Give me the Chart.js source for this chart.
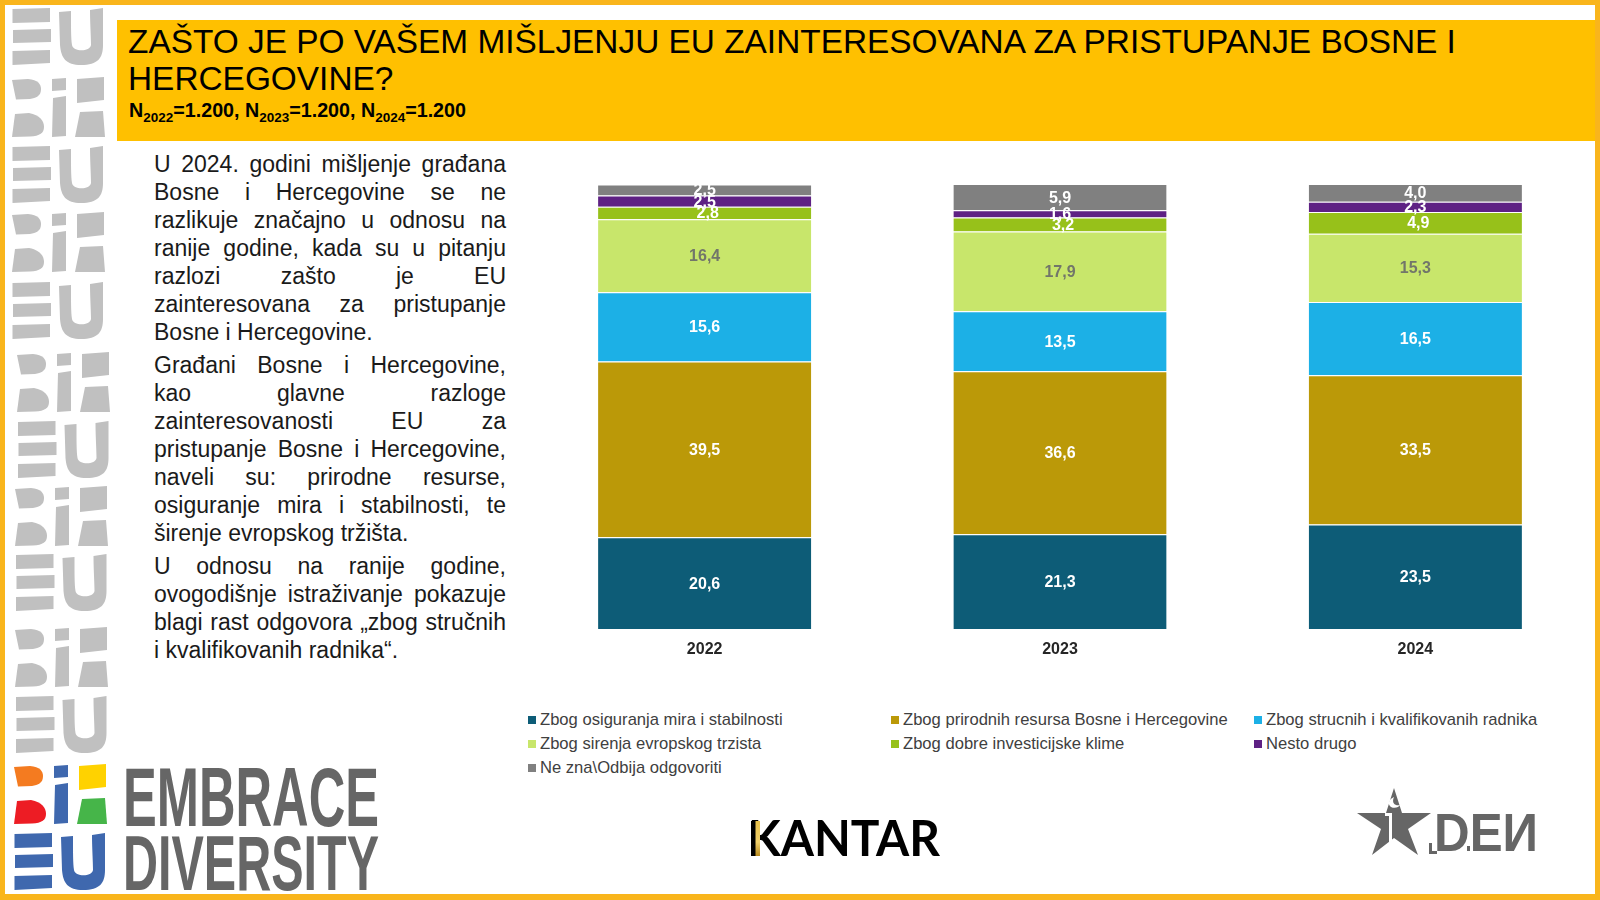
<!DOCTYPE html>
<html lang="bs">
<head>
<meta charset="utf-8">
<title>EU i BiH</title>
<script src="https://cdn.jsdelivr.net/npm/chart.js@4/dist/chart.umd.min.js"></script>
<style>
  html, body { margin: 0; padding: 0; background: #fff; }
  body { width: 1600px; height: 900px; position: relative; overflow: hidden; font-family: "Liberation Sans", Arial, sans-serif; }
  #frame { position: absolute; left: 0; top: 0; width: 1590px; height: 889px; border: 5px solid #F9B51C; border-bottom-width: 6px; }
  #art { position: absolute; left: 0; top: 0; }
  #header { position: absolute; left: 117px; top: 20px; width: 1478px; height: 121px; background: #FFC000; color: #000; }
  #header h1 { position: absolute; left: 11px; top: 4px; margin: 0; width: 1440px; font-size: 33.4px; font-weight: 400; line-height: 36.5px; }
  #header p { position: absolute; left: 12px; top: 78px; margin: 0; font-size: 19.7px; font-weight: 700; line-height: 24px; white-space: nowrap; }
  #header sub { font-size: 13.5px; line-height: 0; }
  #body-text { position: absolute; left: 154px; top: 150px; width: 352px; color: #1a1a1a; font-size: 23px; line-height: 28px; text-align: justify; }
  #body-text p { margin: 0 0 5px 0; }
  #body-text span { display: block; text-align-last: justify; white-space: normal; }
  #body-text span.last { text-align-last: left; }
  #chart-box { position: absolute; left: 527px; top: 174px; }
  #legend { position: absolute; left: 528px; top: 708px; width: 1060px; display: grid; grid-template-columns: 363px 363px auto; grid-auto-rows: 24px; font-size: 16.6px; color: #404040; }
  #legend div { display: flex; align-items: center; white-space: nowrap; }
  #legend i { display: inline-block; width: 8px; height: 8px; margin-right: 4px; }
</style>
</head>
<body>
<div id="frame"></div>

<svg id="art" width="1600" height="900" xmlns="http://www.w3.org/2000/svg">
  <defs>
    <g id="eu">
      <path d="M0.5 1L38 0V14L0.5 15Z M1 22L39 21V34L1 35Z M0.5 43L38 42V55L0.5 57Z"/>
      <path d="M47 4L59 3C59 20 59 30 60 37C61 44 78 44 79 37C79 28 78 15 78 2L91 0V37C91 50 86 57 69 57C54 57 49 50 48 37Z"/>
    </g>
    <g id="bih">
      <path d="M0 2L16 1C26 2 29 6 29 11C29 18 24 20 18 21L4 21.5Z"/>
      <path d="M3 36L17 35C28 37 32 43 32 49C32 55 28 58 18 58.5L0 59Z"/>
      <path d="M40 1L54 0V12L40 13Z M41 20L54 18V58L40 59Z"/>
      <path d="M65 1L92 -1V22L65 25Z M68 34L91 33L93 59L63 59Z"/>
    </g>
    <linearGradient id="gold" x1="0" y1="0" x2="0" y2="1">
      <stop offset="0" stop-color="#E8C14A"/><stop offset="0.6" stop-color="#F0CF6A"/><stop offset="1" stop-color="#B88A1E"/>
    </linearGradient>
  </defs>

  <g fill="#C0C0C0">
    <use href="#eu" x="12" y="8"/><use href="#bih" x="12" y="78"/>
    <use href="#eu" x="12" y="146"/><use href="#bih" x="12" y="213"/>
    <use href="#eu" x="12" y="282"/><use href="#bih" x="17" y="353"/>
    <use href="#eu" x="17.5" y="421"/><use href="#bih" x="15" y="487"/>
    <use href="#eu" x="15.5" y="554"/><use href="#bih" x="15" y="628"/>
    <use href="#eu" x="15.5" y="696"/>
  </g>

  <g transform="translate(14,765)">
    <path fill="#F47B20" d="M0 2L16 1C26 2 29 6 29 11C29 18 24 20 18 21L4 21.5Z"/>
    <path fill="#ED1C24" d="M3 36L17 35C28 37 32 43 32 49C32 55 28 58 18 58.5L0 59Z"/>
    <path fill="#3F68AE" d="M40 1L54 0V12L40 13Z M41 20L54 18V58L40 59Z"/>
    <path fill="#FFD200" d="M65 1L92 -1V22L65 25Z"/>
    <path fill="#46B549" d="M68 34L91 33L93 59L63 59Z"/>
  </g>
  <use href="#eu" x="14" y="833" fill="#3F68AE"/>

  <g fill="#666" font-family="'Liberation Sans Narrow','Liberation Sans',sans-serif" font-weight="700">
    <text x="123" y="826" font-size="84" textLength="256" lengthAdjust="spacingAndGlyphs">EMBRACE</text>
    <text x="123" y="890" font-size="77" textLength="256" lengthAdjust="spacingAndGlyphs">DIVERSITY</text>
  </g>

  <text x="748" y="856" font-family="Lato,'Liberation Sans',sans-serif" font-weight="700" font-size="49" textLength="192" lengthAdjust="spacingAndGlyphs" fill="#000">KANTAR</text>
  <rect x="751" y="821" width="9" height="35" fill="#000"/>
  <rect x="755.5" y="821" width="4.5" height="35" fill="url(#gold)"/>

  <path fill="#666" d="M1394 788L1402 813L1431 813L1408 829L1418 855L1394 838L1372 855L1381 829L1357 813L1386 813Z"/>
  <path fill="#fff" d="M1394 797C1389 799 1387 804 1391 807C1395 809 1399 807 1400 805C1396 806 1391 804 1394 797Z"/>
  <path fill="#fff" d="M1385 813H1392V848H1389V816H1385Z"/>
  <text x="1434" y="851" font-family="'Liberation Sans Narrow','Liberation Sans',sans-serif" font-weight="700" font-size="53" textLength="104" lengthAdjust="spacingAndGlyphs" fill="#666">DEИ</text>
  <path fill="#666" d="M1429 843H1432V851H1437V854H1429Z M1462 851H1470V846H1467V851Z"/>
</svg>

<div id="header">
  <h1>ZAŠTO JE PO VAŠEM MIŠLJENJU EU ZAINTERESOVANA ZA PRISTUPANJE BOSNE I HERCEGOVINE?</h1>
  <p>N<sub>2022</sub>=1.200, N<sub>2023</sub>=1.200, N<sub>2024</sub>=1.200</p>
</div>

<div id="body-text">
  <p>U 2024. godini mišljenje građana Bosne i Hercegovine se ne razlikuje značajno u odnosu na ranije godine, kada su u pitanju razlozi zašto je EU zainteresovana za pristupanje Bosne i Hercegovine.</p>
  <p>
    <span>Građani Bosne i Hercegovine,</span>
    <span>kao glavne razloge</span>
    <span>zainteresovanosti EU za</span>
    <span>pristupanje Bosne i Hercegovine,</span>
    <span>naveli su: prirodne resurse,</span>
    <span>osiguranje mira i stabilnosti, te</span>
    <span class="last">širenje evropskog tržišta.</span>
  </p>
  <p>U odnosu na ranije godine, ovogodišnje istraživanje pokazuje blagi rast odgovora „zbog stručnih i kvalifikovanih radnika“.</p>
</div>

<div id="chart-box"><canvas id="chart" width="1066" height="495" style="width:1066px;height:495px"></canvas></div>
<div id="legend"></div>

<script>
const years = ["2022", "2023", "2024"];

const mir = [20.6, 21.3, 23.5];
const resursi = [39.5, 36.6, 33.5];
const radnici = [15.6, 13.5, 16.5];
const trziste = [16.4, 17.9, 15.3];
const klima = [2.8, 3.2, 4.9];
const drugo = [2.5, 1.6, 2.3];
const neZna = [2.5, 5.9, 4.0];

const seriesNames = [
  "Zbog osiguranja mira i stabilnosti",
  "Zbog prirodnih resursa Bosne i Hercegovine",
  "Zbog strucnih i kvalifikovanih radnika",
  "Zbog sirenja evropskog trzista",
  "Zbog dobre investicijske klime",
  "Nesto drugo",
  "Ne zna\\Odbija odgovoriti",
];
const seriesValues = [mir, resursi, radnici, trziste, klima, drugo, neZna];
const seriesColors = ["#0D5C77", "#BB9908", "#1CB0E6", "#C8E66B", "#97C11A", "#5E2184", "#808080"];

// vrijednosti na stupcima, Chart.js nema datalabels bez plugina
const barLabels = {
  id: "barLabels",
  afterDatasetsDraw(chart) {
    const ctx = chart.ctx;
    ctx.save();
    ctx.font = "700 16px 'Liberation Sans', Arial, sans-serif";
    ctx.textAlign = "center";
    ctx.textBaseline = "middle";
    chart.data.datasets.forEach((ds, i) => {
      chart.getDatasetMeta(i).data.forEach((bar, j) => {
        ctx.fillStyle = ds.labelColor;
        ctx.fillText(ds.data[j].toFixed(1).replace(".", ","), bar.x + ds.labelShift, bar.y + (bar.base - bar.y) / 2 + 1);
      });
    });
    ctx.restore();
  },
};

new Chart(document.getElementById("chart"), {
  type: "bar",
  data: {
    labels: years,
    datasets: seriesNames.map((name, i) => ({
      label: name,
      data: seriesValues[i],
      backgroundColor: seriesColors[i],
      borderColor: "#fff",
      borderWidth: { top: 1, right: 0, bottom: 0, left: 0 },
      borderSkipped: false,
      categoryPercentage: 1,
      barPercentage: 0.6,
      labelColor: i === 3 ? "#72766A" : "#fff",
      labelShift: i === 4 ? 3 : 0,
    })),
  },
  options: {
    responsive: false,
    animation: false,
    layout: { padding: { top: 10 } },
    plugins: { legend: { display: false }, tooltip: { enabled: false } },
    scales: {
      x: {
        stacked: true,
        grid: { display: false, drawTicks: false },
        border: { display: false },
        ticks: { color: "#262626", padding: 11, font: { family: "'Liberation Sans', Arial, sans-serif", size: 16, weight: "700" } },
        afterFit: (scale) => { scale.height = 40; },
      },
      y: { stacked: true, min: 0, max: 100, display: false },
    },
  },
  plugins: [barLabels],
});

// legenda u tri kolone
const legendBox = document.getElementById("legend");
seriesNames.forEach((name, i) => {
  const row = document.createElement("div");
  const swatch = document.createElement("i");
  swatch.style.background = seriesColors[i];
  row.appendChild(swatch);
  row.appendChild(document.createTextNode(name));
  legendBox.appendChild(row);
});
</script>
</body>
</html>
